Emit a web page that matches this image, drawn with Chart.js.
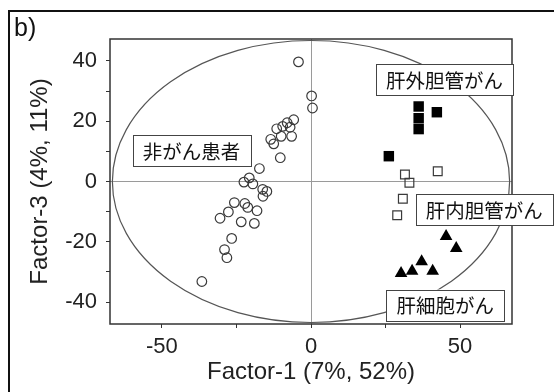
<!DOCTYPE html>
<html>
<head>
<meta charset="utf-8">
<script src="https://cdn.jsdelivr.net/npm/chart.js@4.4.1/dist/chart.umd.min.js"></script>
<style>
  html, body { margin: 0; padding: 0; background: #fff; }
  #wrap { width: 554px; height: 392px; position: relative; }
</style>
</head>
<body>
<div id="wrap"><canvas id="chart"></canvas></div>
<script>
// factor scores, [factor-1, factor-3]
const nonCancer = [
  [-4.2, 39.7], [0.2, 28.4], [0.5, 24.4],
  [-5.8, 20.5], [-8.0, 19.5], [-9.5, 18.3], [-7.0, 18.0], [-11.5, 17.5],
  [-6.5, 15.0], [-10.0, 15.0], [-13.5, 14.0], [-12.5, 12.5], [-10.3, 7.9],
  [-17.3, 4.3], [-20.7, 1.2], [-22.5, -0.2], [-19.5, -0.8], [-16.2, -2.6],
  [-14.8, -3.3], [-16.1, -4.9], [-25.7, -7.0], [-22.2, -7.3], [-21.2, -8.6],
  [-18.1, -9.7], [-27.7, -10.1], [-30.5, -12.2], [-23.4, -13.4], [-19.0, -13.9],
  [-26.6, -18.9], [-29.0, -22.6], [-28.2, -25.3], [-36.6, -33.2],
];
const extraBile = [[36.1, 24.9], [36.1, 21.0], [36.1, 17.4], [42.2, 23.0], [26.1, 8.4]];
const intraBile = [[31.5, 2.3], [42.5, 3.4], [33.0, -0.4], [30.8, -5.7], [28.9, -11.2]];
const hcc = [[45.3, -18.2], [48.7, -22.2], [37.1, -26.6], [33.9, -29.7], [30.2, -30.5], [40.8, -29.7]];

const groupNames = ['非がん患者', '肝外胆管がん', '肝内胆管がん', '肝細胞がん'];
const xTicks = [-50, 0, 50];
const xMinor = [-25, 25];
const yTicks = [-40, -20, 0, 20, 40];
const yMinor = [-30, -10, 10, 30];
const xRange = [-67.4, 67.4];
const yRange = [-47.3, 47.3];
const ellipseRadii = [66.6, 46.8];

// where each group's name box sits, in data units (box centre)
const labelPos = [[-40.1, 10.2], [44.8, 33.7], [58.1, -9.3], [45.0, -41.0]];

const toXY = (pts) => pts.map(([x, y]) => ({ x, y }));

const FONT = '"Liberation Sans", Arial, sans-serif';
const JP_FONT = '"Noto Sans CJK JP", sans-serif';

const extras = {
  id: 'extras',
  beforeDatasetsDraw(chart) {
    const { ctx, scales: { x, y } } = chart;
    const cx = x.getPixelForValue(0), cy = y.getPixelForValue(0);
    const rx = x.getPixelForValue(ellipseRadii[0]) - cx;
    const ry = cy - y.getPixelForValue(ellipseRadii[1]);
    ctx.save();
    ctx.strokeStyle = '#555';
    ctx.lineWidth = 1.2;
    ctx.beginPath();
    ctx.ellipse(cx, cy, rx, ry, 0, 0, Math.PI * 2);
    ctx.stroke();
    ctx.restore();
  },
  afterDatasetsDraw(chart) {
    const { ctx, chartArea: a, scales: { x, y } } = chart;
    ctx.save();
    // plot frame
    ctx.strokeStyle = '#333';
    ctx.lineWidth = 1.5;
    ctx.strokeRect(a.left, a.top, a.right - a.left, a.bottom - a.top);

    // group name boxes
    ctx.font = '19.5px ' + JP_FONT;
    ctx.textAlign = 'center';
    ctx.textBaseline = 'middle';
    groupNames.forEach((name, i) => {
      const px = x.getPixelForValue(labelPos[i][0]);
      const py = y.getPixelForValue(labelPos[i][1]);
      const w = ctx.measureText(name).width + 20;
      const h = 31;
      ctx.fillStyle = '#fff';
      ctx.fillRect(px - w / 2, py - h / 2, w, h);
      ctx.strokeStyle = '#444';
      ctx.lineWidth = 1;
      ctx.strokeRect(Math.round(px - w / 2) + 0.5, Math.round(py - h / 2) + 0.5, Math.round(w), h);
      ctx.fillStyle = '#111';
      ctx.fillText(name, px, py + 1);
    });

    // panel letter and outer border
    ctx.font = '25px ' + FONT;
    ctx.textAlign = 'left';
    ctx.fillStyle = '#111';
    ctx.fillText('b)', 14, 29);
    ctx.strokeStyle = '#111';
    ctx.lineWidth = 2;
    ctx.beginPath();
    ctx.moveTo(9, chart.height);
    ctx.lineTo(9, 11);
    ctx.lineTo(chart.width, 11);
    ctx.stroke();
    ctx.restore();
  },
};

const tickFont = { family: FONT, size: 22 };
const titleFont = { family: FONT, size: 24 };
const zeroGrid = (c) => (c.tick && c.tick.value === 0 ? '#9a9a9a' : 'rgba(0,0,0,0)');

new Chart(document.getElementById('chart'), {
  type: 'scatter',
  data: {
    datasets: [
      { label: groupNames[0], data: toXY(nonCancer), pointStyle: 'circle', pointRadius: 4.8,
        borderColor: '#3a3a3a', backgroundColor: 'rgba(0,0,0,0)', borderWidth: 1.2 },
      { label: groupNames[1], data: toXY(extraBile), pointStyle: 'rect', pointRadius: 7.4,
        borderColor: '#000', backgroundColor: '#000', borderWidth: 0 },
      { label: groupNames[2], data: toXY(intraBile), pointStyle: 'rect', pointRadius: 6.2,
        borderColor: '#3a3a3a', backgroundColor: 'rgba(0,0,0,0)', borderWidth: 1.2 },
      { label: groupNames[3], data: toXY(hcc), pointStyle: 'triangle', pointRadius: 7.3,
        borderColor: '#000', backgroundColor: '#000', borderWidth: 0 },
    ],
  },
  options: {
    responsive: true,
    maintainAspectRatio: false,
    animation: false,
    layout: { padding: { left: 0, top: 39, right: 42, bottom: 0 } },
    plugins: { legend: { display: false }, tooltip: { enabled: false } },
    scales: {
      x: {
        min: xRange[0], max: xRange[1],
        afterBuildTicks: (s) => { s.ticks = [...xTicks, ...xMinor].sort((a, b) => a - b).map((v) => ({ value: v })); },
        afterFit: (s) => { s.height = 68; },
        ticks: { autoSkip: false, maxRotation: 0, padding: 6, color: '#222', font: tickFont,
          callback: (v) => (xTicks.includes(v) ? String(v) : '') },
        grid: { color: zeroGrid, tickColor: '#333', tickLength: 4, lineWidth: 1 },
        border: { display: false },
        title: { display: true, text: 'Factor-1 (7%, 52%)', color: '#222', font: titleFont, padding: { top: 0, bottom: 5 } },
      },
      y: {
        min: yRange[0], max: yRange[1],
        afterBuildTicks: (s) => { s.ticks = [...yTicks, ...yMinor].sort((a, b) => a - b).map((v) => ({ value: v })); },
        afterFit: (s) => { s.width = 110; },
        ticks: { autoSkip: false, padding: 9, color: '#222', font: tickFont,
          callback: (v) => (yTicks.includes(v) ? String(v) : '') },
        grid: { color: zeroGrid, tickColor: '#333', tickLength: 4, lineWidth: 1 },
        border: { display: false },
        title: { display: true, text: 'Factor-3 (4%, 11%)', color: '#222', font: titleFont, padding: { top: 26, bottom: 0 } },
      },
    },
  },
  plugins: [extras],
});
</script>
</body>
</html>
